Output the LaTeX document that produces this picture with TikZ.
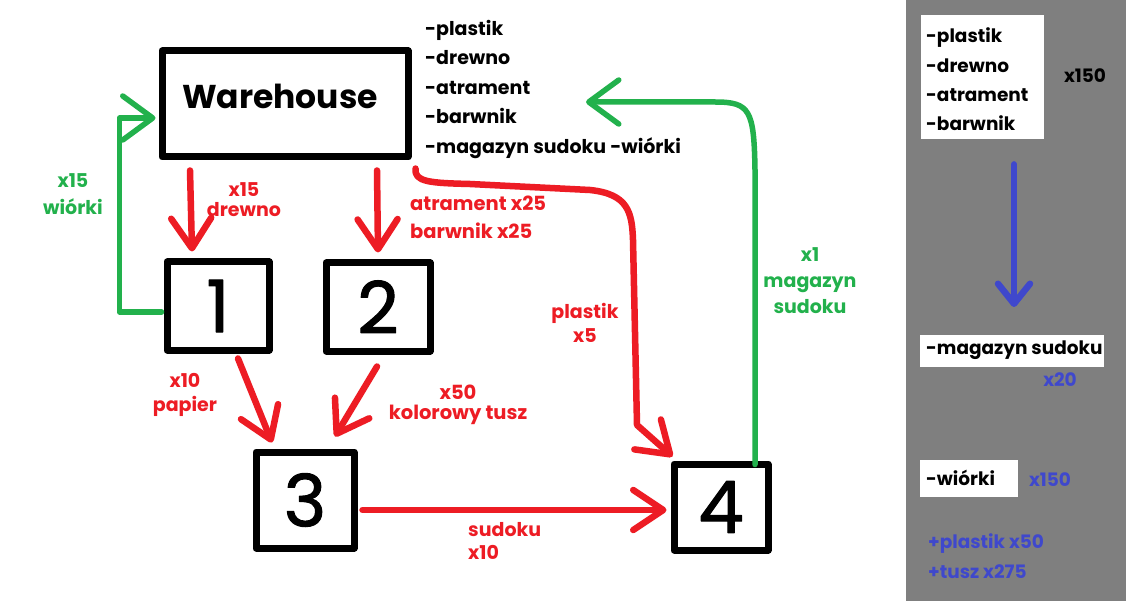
\documentclass[tikz,border=0pt]{standalone}
\usepackage{fontspec}
\setmainfont{Poppins}
\newfontfamily\numfont{Poppins}[FakeBold=1.5]
\usetikzlibrary{arrows.meta}
\definecolor{cRed}{HTML}{ED1C24}
\definecolor{cGreen}{HTML}{22B14C}
\definecolor{cBlue}{HTML}{3F48CC}
\definecolor{cGray}{HTML}{7F7F7F}
\tikzset{
  box/.style={draw=black, line width=7pt, rectangle, inner sep=0pt, line join=round, font=\numfont\fontsize{72}{72}\selectfont},
  txt/.style={font=\bfseries\fontsize{19}{24}\selectfont, inner sep=0pt},
  ptxt/.style={font=\bfseries\fontsize{18.5}{24}\selectfont, inner sep=0pt},
  redtxt/.style={txt, text=cRed, align=center},
  greentxt/.style={txt, text=cGreen, align=center},
  bluetxt/.style={ptxt, text=cBlue},
  redline/.style={draw=cRed, line width=6.5pt, line cap=round, line join=round,
     -{Straight Barb[length=30pt,width=40pt,line cap=round,line join=round]}},
  greenline/.style={draw=cGreen, line width=5.5pt, line cap=round, line join=round,
     -{Straight Barb[length=30pt,width=44pt,line cap=round,line join=round]}},
  blueline/.style={draw=cBlue, line width=6.5pt, line cap=round, line join=round,
     -{Straight Barb[length=20pt,width=32pt,line cap=round,line join=round]}},
  wbox/.style={fill=white, inner sep=0pt, anchor=north west}
}
\begin{document}
\begin{tikzpicture}[x=1pt,y=-1pt]
\useasboundingbox (0,0) rectangle (1126,601);
\fill[white] (0,0) rectangle (1126,601);
% right panel
\fill[cGray] (906,0) rectangle (1126,601);

% main boxes
\node[box, minimum width=246, minimum height=106] (wh) at (285,104) {};
\node[txt, font=\bfseries\fontsize{33}{40}\selectfont] (whT) at (280,96) {Warehouse};
\node[box, minimum width=102, minimum height=88] (b1) at (218,306) {1};
\node[box, minimum width=104, minimum height=88] (b2) at (378,307) {2};
\node[box, minimum width=98, minimum height=96] (b3) at (305,500) {3};
\node[box, minimum width=94, minimum height=86] (b4) at (721,507) {4};

% warehouse list
\node[txt, anchor=base west] (l1) at (425,36) {-plastik};
\node[txt, anchor=base west] (l2) at (425,65) {-drewno};
\node[txt, anchor=base west] (l3) at (425,95) {-atrament};
\node[txt, anchor=base west] (l4) at (425,124) {-barwnik};
\node[txt, anchor=base west] (l5) at (425,154) {-magazyn sudoku -wiórki};
\coordinate (gEnd) at (586,102);

% red connectors
\draw[redline] ([xshift=-95pt,yshift=-10pt]wh.south) -- ([xshift=-26pt,yshift=7pt]b1.north);
\draw[redline] ([xshift=92pt,yshift=-10pt]wh.south) -- ([xshift=0pt,yshift=7pt]b2.north);
\draw[redline] ([xshift=20pt,yshift=-5pt]b1.south) -- ([xshift=-33pt,yshift=6pt]b3.north);
\draw[redline] ([xshift=-1pt,yshift=-12pt]b2.south) -- ([xshift=30pt,yshift=12pt]b3.north);
\draw[redline] ([xshift=5pt,yshift=-10pt]b3.east) -- ([xshift=-4pt,yshift=-3pt]b4.west);
\draw[redline] ([xshift=4pt,yshift=-8pt]wh.south east) .. controls (414,182) and (430,183) .. (470,184)
   -- (590,190) .. controls (628,194) and (632,212) .. (633,240) -- (637,425)
   -- ([xshift=2pt,yshift=4pt]b4.north west);

% green connectors
\draw[greenline] ([xshift=-2pt,yshift=-6pt]b1.west) -- ++(-42,0) |- ([yshift=-14pt,xshift=-3pt]wh.west);
\draw[greenline] ([xshift=34pt,yshift=-4pt]b4.north) -- (755,170)
   .. controls (754,110) and (750,102) .. (715,102) -- (gEnd);

% labels
\node[redtxt, font=\bfseries\fontsize{19}{20}\selectfont] (lab1) at (244,200) {x15\\drewno};
\node[redtxt, anchor=west, align=left, font=\bfseries\fontsize{19.5}{28}\selectfont] (lab2) at (410,217) {atrament x25\\barwnik x25};
\node[redtxt] (lab3) at (585,323) {plastik\\x5};
\node[greentxt, font=\bfseries\fontsize{19}{27}\selectfont] (lab4) at (73,194) {x15\\wiórki};
\node[redtxt] (lab5) at (185,395) {x10\\papier};
\node[redtxt, font=\bfseries\fontsize{19.5}{20}\selectfont] (lab6) at (458,405) {x50\\kolorowy tusz};
\node[redtxt, anchor=west, align=left, font=\bfseries\fontsize{19}{23}\selectfont] (lab7) at (468,541) {sudoku\\x10};
\node[greentxt, font=\bfseries\fontsize{19}{26}\selectfont] (lab8) at (810,281) {x1\\magazyn\\sudoku};

% right panel content
\node[wbox, minimum width=123, minimum height=124] (wb1) at (921,15) {};
\node[ptxt, anchor=base west] (p1) at (926,43) {-plastik};
\node[ptxt, anchor=base west] (p2) at (926,73) {-drewno};
\node[ptxt, anchor=base west] (p3) at (926,102) {-atrament};
\node[ptxt, anchor=base west] (p4) at (926,131) {-barwnik};
\node[ptxt] (p5) at (1085,76) {x150};
\node[wbox, minimum width=184, minimum height=32] (wb2) at (920,335) {};
\node[ptxt, anchor=west] (p6) at (926,350) {-magazyn sudoku};
\node[bluetxt] (p7) at (1060,380) {x20};
\node[wbox, minimum width=98, minimum height=37] (wb3) at (920,460) {};
\node[ptxt, anchor=west] (p8) at (926,478) {-wiórki};
\node[bluetxt] (p9) at (1050,480) {x150};
\node[bluetxt, anchor=west] (p10) at (928,544) {+plastik x50};
\node[bluetxt, anchor=west] (p11) at (928,572) {+tusz x275};
\coordinate (bx) at (1014,0);
\draw[blueline] ([yshift=-25pt]bx |- wb1.south) -- ([yshift=28pt]bx |- wb2.north);
\end{tikzpicture}
\end{document}
